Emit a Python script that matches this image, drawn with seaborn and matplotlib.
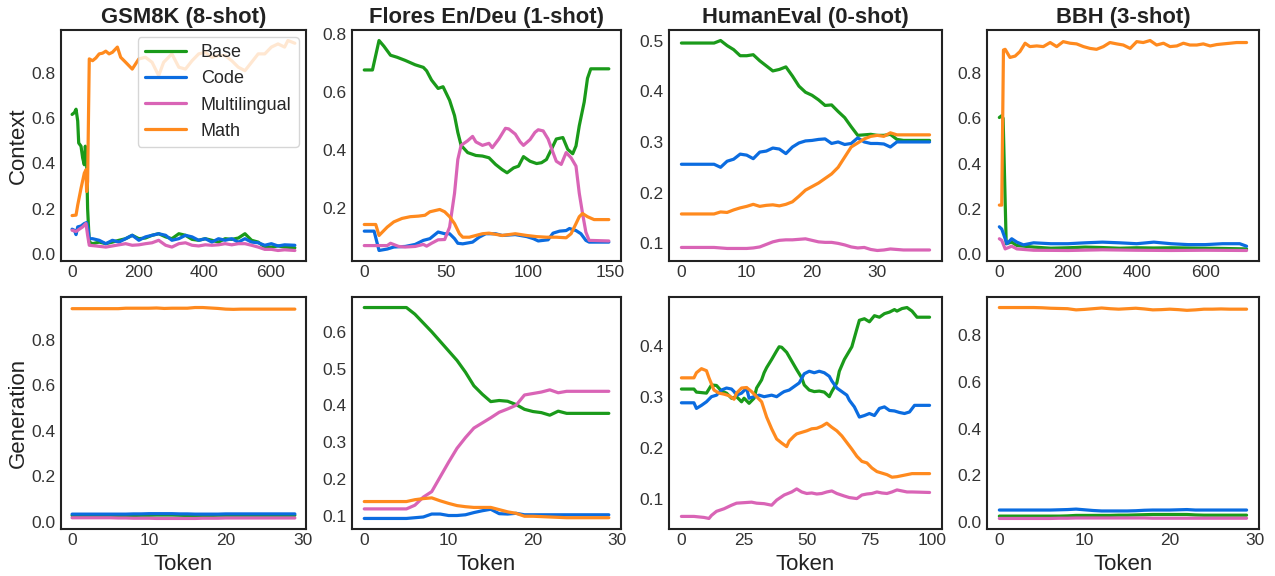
import numpy as np
import pandas as pd
import seaborn as sns
import matplotlib.pyplot as plt
from matplotlib.ticker import MultipleLocator

# Expert names and colours
experts = ['Base', 'Code', 'Multilingual', 'Math']
colors = ['#1a9a1a', '#0b6ce0', '#d964b6', '#ff8a1e']

titles = ['GSM8K (8-shot)', 'Flores En/Deu (1-shot)', 'HumanEval (0-shot)', 'BBH (3-shot)']

# ---------------- Context row ----------------
# GSM8K context (read at key tokens)
gsm_ctx_base_x = [0, 7, 12, 17, 20, 27, 32, 37, 40, 44, 47, 52, 62, 82, 102, 122, 142, 162, 182, 202, 222, 242,
                  262, 283, 302, 323, 343, 363, 383, 403, 423, 443, 463, 483, 503, 523, 543, 563, 583, 603, 623, 643, 674]
gsm_ctx_base = [0.616, 0.624, 0.639, 0.587, 0.490, 0.476, 0.424, 0.394, 0.476, 0.409, 0.200, 0.053, 0.046, 0.053,
                0.046, 0.053, 0.061, 0.068, 0.083, 0.068, 0.071, 0.083, 0.090, 0.076, 0.068, 0.090, 0.083, 0.065,
                0.061, 0.068, 0.061, 0.053, 0.068, 0.065, 0.071, 0.090, 0.061, 0.053, 0.031, 0.031, 0.036, 0.031, 0.028]
gsm_ctx_code_x = [0, 7, 12, 17, 27, 37, 44, 49, 52, 62, 82, 102, 122, 142, 162, 182, 202, 222, 242, 262, 283, 302,
                  323, 343, 363, 383, 403, 423, 443, 463, 483, 503, 523, 543, 563, 583, 603, 623, 643, 674]
gsm_ctx_code = [0.110, 0.105, 0.086, 0.120, 0.124, 0.135, 0.139, 0.105, 0.068, 0.068, 0.061, 0.046, 0.061, 0.053,
                0.068, 0.083, 0.061, 0.076, 0.083, 0.090, 0.083, 0.061, 0.068, 0.083, 0.076, 0.061, 0.068, 0.053,
                0.068, 0.061, 0.068, 0.053, 0.068, 0.053, 0.050, 0.039, 0.046, 0.036, 0.041, 0.039]
gsm_ctx_multi_x = [0, 12, 22, 32, 42, 47, 52, 72, 102, 122, 142, 162, 182, 202, 222, 242, 262, 283, 302, 323, 343,
                   363, 383, 403, 423, 443, 463, 483, 503, 523, 543, 563, 583, 603, 623, 643, 674]
gsm_ctx_multi = [0.105, 0.100, 0.110, 0.120, 0.135, 0.083, 0.039, 0.036, 0.031, 0.036, 0.041, 0.046, 0.039, 0.041,
                 0.046, 0.050, 0.061, 0.039, 0.031, 0.046, 0.050, 0.039, 0.036, 0.041, 0.039, 0.041, 0.046, 0.041,
                 0.046, 0.046, 0.039, 0.031, 0.021, 0.021, 0.016, 0.019, 0.016]
gsm_ctx_math_x = [0, 12, 17, 27, 37, 42, 44, 47, 52, 62, 72, 82, 92, 102, 112, 122, 137, 147, 162, 182, 202, 222,
                  242, 262, 277, 302, 323, 343, 363, 383, 403, 423, 443, 463, 483, 503, 523, 543, 563, 583, 603, 623,
                  643, 653, 674]
gsm_ctx_math = [0.170, 0.172, 0.216, 0.290, 0.357, 0.372, 0.276, 0.320, 0.861, 0.853, 0.865, 0.883, 0.886, 0.895,
                0.883, 0.890, 0.913, 0.868, 0.846, 0.816, 0.861, 0.868, 0.846, 0.787, 0.846, 0.883, 0.824, 0.816,
                0.853, 0.883, 0.890, 0.868, 0.876, 0.876, 0.853, 0.824, 0.809, 0.846, 0.883, 0.883, 0.913, 0.927,
                0.913, 0.942, 0.930]

# Flores context
fl_ctx_base_x = [0, 5, 9, 12, 16, 20, 25, 31, 36, 38, 41, 45, 48, 52, 55, 57, 59, 63, 68, 72, 76, 80, 84, 87, 91,
                 94, 97, 101, 105, 108, 111, 114, 117, 121, 124, 127, 129, 131, 134, 136, 138, 149]
fl_ctx_base = [0.677, 0.677, 0.779, 0.759, 0.728, 0.721, 0.710, 0.695, 0.686, 0.674, 0.642, 0.613, 0.619, 0.572,
               0.519, 0.461, 0.416, 0.391, 0.381, 0.379, 0.373, 0.350, 0.332, 0.321, 0.338, 0.344, 0.377, 0.361,
               0.353, 0.356, 0.367, 0.402, 0.438, 0.443, 0.402, 0.387, 0.414, 0.484, 0.566, 0.648, 0.681, 0.681]
fl_ctx_code_x = [0, 6, 9, 14, 18, 25, 31, 36, 40, 45, 49, 52, 55, 57, 60, 66, 70, 74, 80, 84, 92, 95, 99, 103, 106,
                 109, 112, 115, 119, 123, 125, 129, 132, 135, 137, 149]
fl_ctx_code = [0.119, 0.119, 0.052, 0.057, 0.064, 0.066, 0.073, 0.087, 0.093, 0.116, 0.110, 0.110, 0.093, 0.077,
               0.075, 0.081, 0.098, 0.110, 0.110, 0.104, 0.107, 0.104, 0.100, 0.093, 0.085, 0.087, 0.089, 0.112,
               0.119, 0.121, 0.128, 0.121, 0.110, 0.087, 0.081, 0.081]
fl_ctx_multi_x = [0, 14, 16, 21, 25, 31, 36, 38, 41, 45, 49, 52, 55, 57, 59, 63, 66, 68, 72, 76, 78, 82, 86, 88, 92,
                  95, 97, 101, 104, 106, 109, 112, 115, 117, 120, 123, 126, 129, 131, 133, 135, 137, 149]
fl_ctx_multi = [0.069, 0.069, 0.077, 0.066, 0.064, 0.066, 0.073, 0.067, 0.077, 0.089, 0.090, 0.133, 0.250, 0.367,
                0.416, 0.432, 0.447, 0.428, 0.416, 0.423, 0.408, 0.438, 0.475, 0.473, 0.455, 0.428, 0.416, 0.436,
                0.461, 0.470, 0.466, 0.438, 0.391, 0.361, 0.350, 0.391, 0.373, 0.344, 0.250, 0.180, 0.116, 0.087, 0.085]
fl_ctx_math_x = [0, 7, 9, 14, 18, 23, 28, 33, 37, 40, 43, 46, 49, 52, 55, 58, 60, 64, 68, 72, 76, 84, 92, 99, 105,
                 111, 117, 123, 126, 129, 131, 133, 136, 140, 149]
fl_ctx_math = [0.142, 0.142, 0.104, 0.133, 0.151, 0.163, 0.169, 0.171, 0.174, 0.186, 0.190, 0.194, 0.186, 0.169,
               0.145, 0.110, 0.098, 0.098, 0.104, 0.110, 0.112, 0.104, 0.110, 0.104, 0.100, 0.098, 0.098, 0.096,
               0.110, 0.145, 0.169, 0.180, 0.169, 0.159, 0.159]

# HumanEval context (one value per token)
he_ctx_base = [0.495, 0.495, 0.495, 0.495, 0.495, 0.495, 0.500, 0.490, 0.482, 0.470, 0.470, 0.472, 0.460, 0.450,
               0.440, 0.443, 0.448, 0.430, 0.410, 0.398, 0.392, 0.383, 0.372, 0.373, 0.360, 0.348, 0.330, 0.313,
               0.314, 0.315, 0.313, 0.313, 0.315, 0.305, 0.303, 0.303, 0.303, 0.303, 0.303]
he_ctx_code = [0.256, 0.256, 0.256, 0.256, 0.256, 0.256, 0.250, 0.262, 0.266, 0.276, 0.274, 0.267, 0.280, 0.282,
               0.288, 0.286, 0.277, 0.290, 0.298, 0.302, 0.303, 0.305, 0.306, 0.297, 0.300, 0.295, 0.297, 0.308,
               0.300, 0.297, 0.297, 0.296, 0.290, 0.300, 0.300, 0.300, 0.300, 0.300, 0.300]
he_ctx_multi = [0.092, 0.092, 0.092, 0.092, 0.092, 0.092, 0.091, 0.090, 0.090, 0.090, 0.090, 0.091, 0.093, 0.098,
                0.103, 0.106, 0.107, 0.107, 0.108, 0.109, 0.106, 0.103, 0.102, 0.102, 0.100, 0.097, 0.093, 0.091,
                0.092, 0.088, 0.086, 0.087, 0.089, 0.088, 0.087, 0.087, 0.087, 0.087, 0.087]
he_ctx_math = [0.158, 0.158, 0.158, 0.158, 0.158, 0.158, 0.162, 0.161, 0.166, 0.170, 0.173, 0.177, 0.173, 0.175,
               0.176, 0.174, 0.177, 0.182, 0.193, 0.205, 0.212, 0.219, 0.228, 0.237, 0.250, 0.270, 0.290, 0.298,
               0.306, 0.311, 0.313, 0.311, 0.318, 0.314, 0.314, 0.314, 0.314, 0.314, 0.314]

# BBH context
bbh_ctx_base_x = [0, 7, 11, 20, 36, 51, 100, 150, 200, 250, 300, 350, 400, 450, 500, 550, 600, 650, 720]
bbh_ctx_base = [0.604, 0.612, 0.600, 0.045, 0.052, 0.037, 0.030, 0.025, 0.027, 0.030, 0.028, 0.025, 0.027, 0.026,
                0.027, 0.026, 0.025, 0.024, 0.022]
bbh_ctx_code_x = [0, 7, 14, 22, 36, 51, 70, 100, 150, 200, 250, 300, 350, 400, 450, 500, 550, 600, 650, 700, 720]
bbh_ctx_code = [0.120, 0.110, 0.080, 0.045, 0.067, 0.052, 0.040, 0.049, 0.045, 0.045, 0.049, 0.052, 0.049, 0.045,
                0.052, 0.045, 0.041, 0.041, 0.045, 0.045, 0.034]
bbh_ctx_multi_x = [0, 7, 17, 36, 51, 100, 200, 300, 400, 500, 600, 720]
bbh_ctx_multi = [0.067, 0.060, 0.022, 0.034, 0.022, 0.016, 0.015, 0.018, 0.016, 0.015, 0.016, 0.015]
bbh_ctx_math_x = [0, 7, 12, 17, 31, 46, 60, 75, 89, 109, 128, 148, 167, 186, 206, 225, 245, 264, 283, 303, 322, 342,
                  361, 381, 400, 419, 439, 458, 478, 497, 517, 536, 555, 575, 594, 614, 633, 652, 672, 691, 720]
bbh_ctx_math = [0.216, 0.216, 0.903, 0.906, 0.870, 0.876, 0.896, 0.933, 0.918, 0.921, 0.918, 0.936, 0.918, 0.940,
                0.933, 0.930, 0.918, 0.910, 0.906, 0.918, 0.936, 0.930, 0.925, 0.910, 0.940, 0.936, 0.945, 0.925,
                0.933, 0.918, 0.921, 0.933, 0.925, 0.925, 0.930, 0.921, 0.927, 0.930, 0.933, 0.936, 0.936]

# ---------------- Generation row ----------------
gsm_gen_base = [0.028, 0.028, 0.028, 0.028, 0.028, 0.028, 0.028, 0.028, 0.028, 0.029, 0.029, 0.030, 0.030, 0.030,
                0.029, 0.028, 0.028, 0.028, 0.028, 0.029, 0.029, 0.029, 0.029, 0.029, 0.029, 0.029, 0.029, 0.029,
                0.029, 0.029]
gsm_gen_code = [0.034, 0.034, 0.034, 0.034, 0.034, 0.034, 0.034, 0.034, 0.035, 0.035, 0.036, 0.036, 0.036, 0.036,
                0.035, 0.035, 0.034, 0.034, 0.034, 0.034, 0.035, 0.035, 0.035, 0.035, 0.035, 0.035, 0.035, 0.035,
                0.035, 0.035]
gsm_gen_multi = [0.018, 0.018, 0.018, 0.018, 0.018, 0.018, 0.017, 0.017, 0.016, 0.016, 0.016, 0.015, 0.015, 0.015,
                 0.015, 0.015, 0.015, 0.016, 0.016, 0.016, 0.017, 0.017, 0.017, 0.017, 0.017, 0.017, 0.017, 0.017,
                 0.017, 0.017]
gsm_gen_math = [0.937, 0.937, 0.937, 0.937, 0.937, 0.937, 0.937, 0.939, 0.939, 0.939, 0.939, 0.940, 0.938, 0.939,
                0.939, 0.939, 0.942, 0.942, 0.940, 0.938, 0.935, 0.934, 0.935, 0.935, 0.935, 0.935, 0.935, 0.935,
                0.935, 0.935]

fl_gen_base = [0.666, 0.666, 0.666, 0.666, 0.666, 0.666, 0.648, 0.624, 0.600, 0.574, 0.548, 0.522, 0.490, 0.453,
               0.430, 0.410, 0.413, 0.411, 0.402, 0.389, 0.383, 0.380, 0.373, 0.384, 0.378, 0.378, 0.378, 0.378,
               0.378, 0.378]
fl_gen_code = [0.092, 0.092, 0.092, 0.092, 0.092, 0.092, 0.094, 0.096, 0.104, 0.104, 0.100, 0.100, 0.102, 0.108,
               0.113, 0.117, 0.105, 0.104, 0.106, 0.102, 0.102, 0.102, 0.102, 0.102, 0.102, 0.102, 0.102, 0.102,
               0.102, 0.102]
fl_gen_multi = [0.118, 0.118, 0.118, 0.118, 0.118, 0.118, 0.128, 0.150, 0.165, 0.205, 0.245, 0.283, 0.312, 0.338,
                0.352, 0.366, 0.381, 0.390, 0.400, 0.428, 0.432, 0.436, 0.442, 0.434, 0.438, 0.438, 0.438, 0.438,
                0.438, 0.438]
fl_gen_math = [0.138, 0.138, 0.138, 0.138, 0.138, 0.138, 0.143, 0.146, 0.148, 0.140, 0.133, 0.127, 0.124, 0.122,
               0.122, 0.122, 0.116, 0.110, 0.106, 0.098, 0.098, 0.097, 0.096, 0.095, 0.094, 0.094, 0.094, 0.094,
               0.094, 0.094]

he_gen_base_x = [0, 5, 6, 10, 12, 14, 16, 18, 20, 22, 24, 25, 27, 29, 30, 32, 33, 34, 36, 38, 39, 40, 42, 44, 46, 48,
                 49, 51, 53, 55, 57, 59, 60, 62, 63, 65, 68, 70, 71, 73, 74, 75, 77, 79, 81, 83, 85, 86, 88, 90, 92,
                 94, 99]
he_gen_base = [0.315, 0.315, 0.309, 0.307, 0.323, 0.322, 0.311, 0.307, 0.297, 0.300, 0.290, 0.297, 0.287, 0.297,
               0.317, 0.333, 0.347, 0.357, 0.373, 0.390, 0.398, 0.397, 0.387, 0.370, 0.353, 0.337, 0.323, 0.313,
               0.310, 0.311, 0.309, 0.300, 0.310, 0.327, 0.350, 0.373, 0.398, 0.433, 0.450, 0.453, 0.450, 0.447,
               0.459, 0.456, 0.463, 0.466, 0.471, 0.468, 0.473, 0.475, 0.468, 0.456, 0.456]
he_gen_code_x = [0, 5, 6, 8, 10, 12, 14, 16, 18, 20, 21, 22, 24, 26, 27, 29, 31, 33, 36, 38, 40, 41, 43, 45, 47, 49,
                 51, 53, 55, 57, 59, 60, 62, 64, 66, 67, 69, 71, 73, 75, 77, 79, 81, 83, 85, 87, 89, 91, 93, 99]
he_gen_code = [0.288, 0.288, 0.277, 0.283, 0.290, 0.300, 0.303, 0.313, 0.317, 0.315, 0.310, 0.303, 0.307, 0.317,
               0.297, 0.300, 0.303, 0.300, 0.303, 0.300, 0.307, 0.310, 0.313, 0.320, 0.327, 0.345, 0.350, 0.347,
               0.350, 0.347, 0.340, 0.331, 0.317, 0.310, 0.303, 0.293, 0.280, 0.260, 0.263, 0.267, 0.263, 0.277,
               0.280, 0.273, 0.272, 0.269, 0.267, 0.270, 0.283, 0.283]
he_gen_multi_x = [0, 5, 9, 11, 12, 14, 17, 20, 22, 25, 28, 30, 33, 36, 38, 41, 44, 46, 48, 50, 52, 54, 56, 58, 60, 62,
                  65, 67, 70, 72, 74, 76, 78, 80, 82, 84, 86, 88, 90, 92, 99]
he_gen_multi = [0.065, 0.065, 0.063, 0.061, 0.067, 0.075, 0.080, 0.087, 0.091, 0.092, 0.093, 0.091, 0.090, 0.087,
                0.097, 0.107, 0.113, 0.119, 0.113, 0.110, 0.111, 0.109, 0.110, 0.113, 0.115, 0.110, 0.105, 0.102,
                0.100, 0.107, 0.109, 0.110, 0.113, 0.111, 0.110, 0.113, 0.117, 0.115, 0.113, 0.113, 0.112]
he_gen_math_x = [0, 5, 6, 8, 10, 11, 13, 15, 17, 19, 21, 22, 24, 26, 28, 30, 32, 34, 36, 38, 40, 42, 43, 45, 46, 48,
                 50, 52, 54, 56, 58, 60, 62, 64, 66, 68, 70, 72, 74, 76, 78, 80, 82, 84, 86, 88, 90, 92, 99]
he_gen_math = [0.337, 0.337, 0.347, 0.355, 0.351, 0.337, 0.313, 0.307, 0.305, 0.302, 0.295, 0.307, 0.317, 0.318,
               0.310, 0.300, 0.290, 0.260, 0.237, 0.217, 0.209, 0.202, 0.213, 0.223, 0.227, 0.230, 0.233, 0.237,
               0.238, 0.242, 0.248, 0.240, 0.233, 0.223, 0.210, 0.197, 0.183, 0.173, 0.170, 0.160, 0.153, 0.150,
               0.147, 0.142, 0.143, 0.145, 0.147, 0.149, 0.149]

bbh_gen_base = [0.026, 0.026, 0.026, 0.026, 0.026, 0.026, 0.026, 0.026, 0.027, 0.029, 0.029, 0.029, 0.029, 0.029,
                0.030, 0.030, 0.031, 0.032, 0.033, 0.033, 0.033, 0.033, 0.033, 0.031, 0.030, 0.030, 0.030, 0.030,
                0.030, 0.030]
bbh_gen_code = [0.052, 0.052, 0.052, 0.052, 0.052, 0.052, 0.052, 0.053, 0.054, 0.056, 0.053, 0.050, 0.048, 0.048,
                0.048, 0.048, 0.049, 0.051, 0.052, 0.052, 0.052, 0.053, 0.054, 0.052, 0.052, 0.052, 0.052, 0.052,
                0.052, 0.052]
bbh_gen_multi = [0.016, 0.016, 0.016, 0.016, 0.016, 0.016, 0.016, 0.017, 0.017, 0.018, 0.018, 0.018, 0.018, 0.018,
                 0.018, 0.018, 0.018, 0.018, 0.017, 0.017, 0.017, 0.017, 0.017, 0.017, 0.017, 0.017, 0.017, 0.017,
                 0.017, 0.017]
bbh_gen_math = [0.918, 0.918, 0.918, 0.918, 0.918, 0.917, 0.915, 0.914, 0.913, 0.908, 0.910, 0.913, 0.916, 0.913,
                0.911, 0.913, 0.915, 0.912, 0.908, 0.909, 0.911, 0.909, 0.906, 0.908, 0.911, 0.911, 0.912, 0.911,
                0.911, 0.911]


def idx(vals):
    return list(range(len(vals)))


context = [
    [(gsm_ctx_base_x, gsm_ctx_base), (gsm_ctx_code_x, gsm_ctx_code),
     (gsm_ctx_multi_x, gsm_ctx_multi), (gsm_ctx_math_x, gsm_ctx_math)],
    [(fl_ctx_base_x, fl_ctx_base), (fl_ctx_code_x, fl_ctx_code),
     (fl_ctx_multi_x, fl_ctx_multi), (fl_ctx_math_x, fl_ctx_math)],
    [(idx(he_ctx_base), he_ctx_base), (idx(he_ctx_code), he_ctx_code),
     (idx(he_ctx_multi), he_ctx_multi), (idx(he_ctx_math), he_ctx_math)],
    [(bbh_ctx_base_x, bbh_ctx_base), (bbh_ctx_code_x, bbh_ctx_code),
     (bbh_ctx_multi_x, bbh_ctx_multi), (bbh_ctx_math_x, bbh_ctx_math)],
]
generation = [
    [(idx(gsm_gen_base), gsm_gen_base), (idx(gsm_gen_code), gsm_gen_code),
     (idx(gsm_gen_multi), gsm_gen_multi), (idx(gsm_gen_math), gsm_gen_math)],
    [(idx(fl_gen_base), fl_gen_base), (idx(fl_gen_code), fl_gen_code),
     (idx(fl_gen_multi), fl_gen_multi), (idx(fl_gen_math), fl_gen_math)],
    [(he_gen_base_x, he_gen_base), (he_gen_code_x, he_gen_code),
     (he_gen_multi_x, he_gen_multi), (he_gen_math_x, he_gen_math)],
    [(idx(bbh_gen_base), bbh_gen_base), (idx(bbh_gen_code), bbh_gen_code),
     (idx(bbh_gen_multi), bbh_gen_multi), (idx(bbh_gen_math), bbh_gen_math)],
]

sns.set_theme(style='white')
plt.rcParams['font.family'] = ['Liberation Sans', 'DejaVu Sans']
plt.rcParams['axes.edgecolor'] = '#222222'
plt.rcParams['axes.linewidth'] = 1.5

fig, axes = plt.subplots(2, 4, figsize=(12.75, 5.76), dpi=100)

# panel positions (figure fraction) to mimic the reference layout
lefts = [0.0478, 0.2761, 0.5247, 0.7741]
widths = [0.1922, 0.2110, 0.2141, 0.2133]
bottoms = [0.5469, 0.0816]
heights = [0.4010, 0.4028]

for row, data in enumerate([context, generation]):
    for col in range(4):
        ax = axes[row, col]
        ax.set_position([lefts[col], bottoms[row], widths[col], heights[row]])
        for (xs, ys), name, c in zip(data[col], experts, colors):
            sns.lineplot(x=xs, y=ys, ax=ax, color=c, linewidth=2.3,
                         label=name if (row == 0 and col == 0) else None)
        ax.tick_params(axis='both', length=0, labelsize=12.5, colors='#333333')
        ax.tick_params(axis='x', pad=3)
        ax.tick_params(axis='y', pad=4)
        if row == 0:
            ax.set_title(titles[col], fontsize=15.8, fontweight='bold', pad=5, color='#222222')
        else:
            ax.set_xlabel('Token', fontsize=16, color='#222222', labelpad=4)
        if col == 0:
            ax.set_ylabel('Context' if row == 0 else 'Generation', fontsize=16, color='#222222', labelpad=2)

axes[1, 1].yaxis.set_major_locator(MultipleLocator(0.1))

leg = axes[0, 0].legend(loc='upper right', fontsize=13, frameon=True, framealpha=0.8,
                        handlelength=2.3, borderaxespad=0.4)
for line in leg.get_lines():
    line.set_linewidth(2.3)
for ax in axes.flat[1:]:
    if ax.get_legend() is not None:
        ax.get_legend().remove()

plt.savefig('out.png', dpi=100)
